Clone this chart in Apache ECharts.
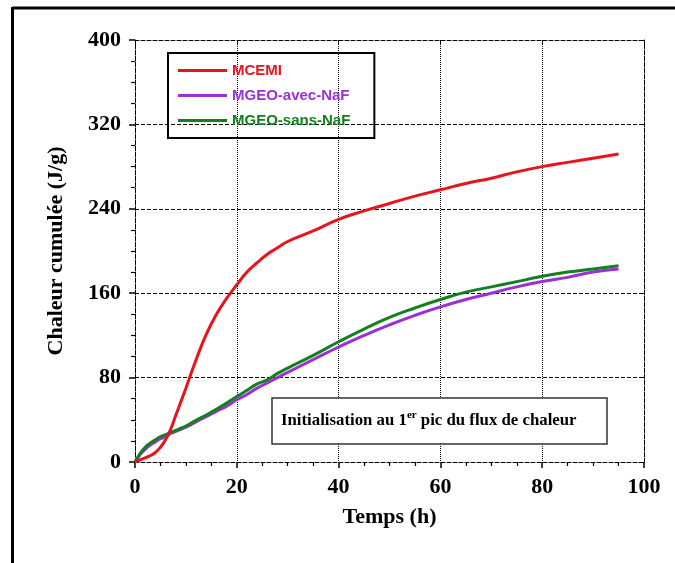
<!DOCTYPE html>
<html>
<head>
<meta charset="utf-8">
<script src="https://cdn.jsdelivr.net/npm/echarts@6/dist/echarts.min.js"></script>
<style>
html,body{margin:0;padding:0;background:#fff;}
#chart{width:675px;height:563px;}
</style>
</head>
<body>
<div id="chart"></div>
<script>
const seriesNames = ['MCEMI', 'MGEO-avec-NaF', 'MGEO-sans-NaF'];
const timeH = [0,1,2,3,4,5,6,7,8,9,10,12,14,16,18,20,22,24,26,28,30,35,40,45,50,55,60,65,70,75,80,85,90,95];
const mcemi = [0,2,4,6,9,14,21,31,44,57,70,97,121,140,155,168,180,189,197,203,209,219,230,238,245,252,258,264,269,275,280,284,288,292];
const mgeoAvec = [0,7,12,16,19,22,24,27,29,31,33,38,43,48,53,59,64,70,75,80,85,97,109,120,130,139,147,154,160,166,171,175,180,183];
const mgeoSans = [0,8,14,18,21,24,26,28,30,32,34,39.5,44.5,50,56,62,68,74,78,84,89,101,114,126,137,146,154,161,166,171,176,180,183,186];
const xTicks = [0,20,40,60,80,100];
const yTicks = [0,80,160,240,320,400];
const colors = ['#e8141b', '#9b30d9', '#12801e'];
const annotation = ['Initialisation au 1', 'er', ' pic du flux de chaleur'];

const pairs = arr => timeH.map((t, i) => [t, arr[i]]);
const serif = 'Liberation Serif';
const chart = echarts.init(document.getElementById('chart'));

function mainAxis(extra) {
  return Object.assign({
    type: 'value',
    axisLine: {show: true, onZero: false, lineStyle: {color: '#000', width: 1, type: 'dashed'}},
    axisTick: {show: true, inside: false, length: 6, lineStyle: {color: '#000', width: 1.5, type: 'solid'}},
    minorTick: {show: true, splitNumber: 4, length: 4, lineStyle: {color: '#000', width: 1.2, type: 'solid'}},
    nameTextStyle: {fontFamily: serif, fontWeight: 'bold', fontSize: 22, color: '#000'}
  }, extra);
}
function sideAxis(extra) {
  return Object.assign({
    type: 'value',
    axisLine: {show: true, onZero: false, lineStyle: {color: '#000', type: 'dashed'}},
    axisTick: {show: true, inside: true, length: 4, lineStyle: {color: '#000', type: 'solid'}},
    minorTick: {show: false},
    axisLabel: {show: false}, splitLine: {show: false}
  }, extra);
}
const labelStyle = ticks => ({fontFamily: serif, fontWeight: 'bold', fontSize: 22, color: '#000', margin: 14,
  formatter: v => ticks.includes(v) ? String(v) : ''});

chart.setOption({
  animation: false,
  backgroundColor: '#fff',
  grid: {left: 135, right: 31, top: 40, bottom: 101},
  legend: {
    orient: 'vertical',
    left: 168, top: 53,
    padding: [9, 24, 9, 10],
    itemGap: 8,
    itemWidth: 49, itemHeight: 3,
    icon: 'rect',
    borderColor: '#000', borderWidth: 2,
    textStyle: {fontFamily: 'Liberation Sans', fontWeight: 'bold', fontSize: 15, lineHeight: 17},
    data: seriesNames.map((n, i) => ({name: n, textStyle: {color: colors[i]}}))
  },
  xAxis: [
    mainAxis({
      min: 0, max: 100, interval: 20, position: 'bottom',
      name: 'Temps (h)', nameLocation: 'middle', nameGap: 44,
      splitLine: {show: true, lineStyle: {color: '#000', type: 'dotted', width: 1}},
      axisLabel: labelStyle(xTicks)
    }),
    sideAxis({min: 0, max: 100, interval: 20, position: 'top'})
  ],
  yAxis: [
    mainAxis({
      min: 0, max: 400, interval: 80, position: 'left',
      name: 'Chaleur cumulée (J/g)', nameLocation: 'middle', nameGap: 68,
      splitLine: {show: true, lineStyle: {color: '#000', type: 'dashed', width: 1}},
      axisLabel: labelStyle(yTicks)
    }),
    sideAxis({min: 0, max: 400, interval: 80, position: 'right'})
  ],
  series: [
    {name: seriesNames[0], type: 'line', data: pairs(mcemi), smooth: true, showSymbol: false, lineStyle: {width: 3, color: colors[0]}, itemStyle: {color: colors[0]}, z: 3},
    {name: seriesNames[1], type: 'line', data: pairs(mgeoAvec), smooth: true, showSymbol: false, lineStyle: {width: 3, color: colors[1]}, itemStyle: {color: colors[1]}, z: 2},
    {name: seriesNames[2], type: 'line', data: pairs(mgeoSans), smooth: true, showSymbol: false, lineStyle: {width: 3, color: colors[2]}, itemStyle: {color: colors[2]}, z: 2}
  ],
  graphic: [
    {type: 'line', shape: {x1: 12.5, y1: 8, x2: 675, y2: 8}, style: {stroke: '#000', lineWidth: 3}},
    {type: 'line', shape: {x1: 12.5, y1: 7, x2: 12.5, y2: 563}, style: {stroke: '#000', lineWidth: 3}},
    {type: 'rect', shape: {x: 272, y: 398, width: 335, height: 46}, style: {fill: '#fff', stroke: '#333', lineWidth: 1.5}, z: 10},
    {type: 'text', x: 281, y: 421, z: 11, style: {
      text: '{a|' + annotation[0] + '}{s|' + annotation[1] + '}{a|' + annotation[2] + '}',
      verticalAlign: 'middle',
      rich: {
        a: {fontFamily: serif, fontWeight: 'bold', fontSize: 16.8, fill: '#000', lineHeight: 22},
        s: {fontFamily: serif, fontWeight: 'bold', fontSize: 11, fill: '#000', verticalAlign: 'top', padding: [0, 0, 9, 0], lineHeight: 22}
      }
    }}
  ]
});
</script>
</body>
</html>
